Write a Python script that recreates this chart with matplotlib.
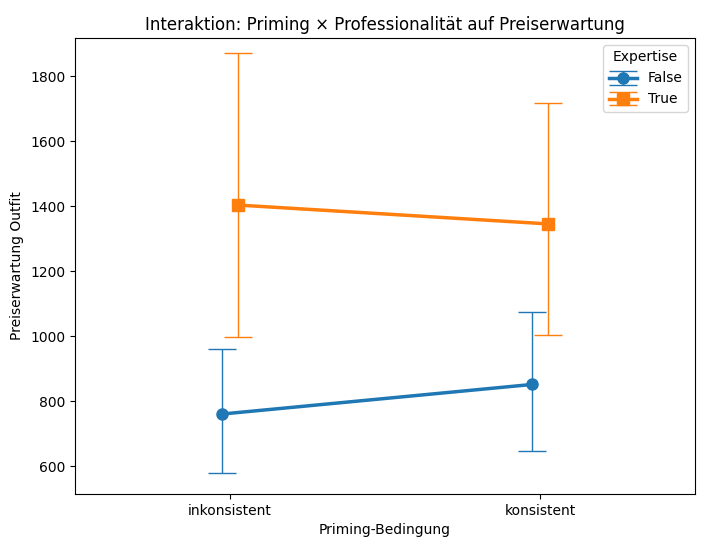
import matplotlib
matplotlib.use("Agg")
import matplotlib.pyplot as plt

categories = ["inkonsistent", "konsistent"]
false_mean = [760, 851]
false_lo = [578, 645]
false_hi = [960, 1075]
true_mean = [1403, 1345]
true_lo = [997, 1003]
true_hi = [1870, 1717]

fig = plt.figure(figsize=(7.04, 5.47), dpi=100)
ax = fig.add_axes([75 / 704, 53 / 547, 620 / 704, 456 / 547])

dodge = 0.026
series = [
    ("False", false_mean, false_lo, false_hi, "#1f77b4", "o", -dodge),
    ("True", true_mean, true_lo, true_hi, "#ff7f0e", "s", dodge),
]
for label, mean, lo, hi, color, marker, off in series:
    xs = [i + off for i in range(len(categories))]
    yerr = [[m - l for m, l in zip(mean, lo)], [h - m for m, h in zip(mean, hi)]]
    ax.errorbar(xs, mean, yerr=yerr, color=color, ecolor=color, elinewidth=1,
                capsize=10, capthick=1, lw=2.5, marker=marker, markersize=8,
                label=label)

ax.set_xticks(range(len(categories)))
ax.set_xticklabels(categories)
ax.set_xlim(-0.5, 1.5)
ax.set_ylim(514, 1917)
ax.set_xlabel("Priming-Bedingung")
ax.set_ylabel("Preiserwartung Outfit")
ax.set_title("Interaktion: Priming × Professionalität auf Preiserwartung")
ax.legend(title="Expertise", loc="upper right")

fig.savefig("out.png", dpi=100)
